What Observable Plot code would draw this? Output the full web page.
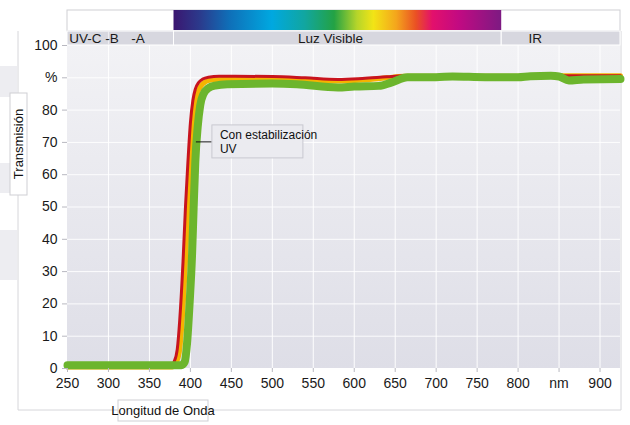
<!DOCTYPE html>
<html><head><meta charset="utf-8">
<script src="https://cdn.jsdelivr.net/npm/d3@7"></script>
<script src="https://cdn.jsdelivr.net/npm/@observablehq/plot@0.6"></script>
<style>
body{margin:0;background:#fff;}
#chart{position:relative;width:630px;height:425px;overflow:hidden;}
</style></head><body><div id="chart"></div>
<script>
// ---- data ----
const xTicks = [250,300,350,400,450,500,550,600,650,700,750,800,850,900];
const xTickLabels = ["250","300","350","400","450","500","550","600","650","700","750","800","nm","900"];
const yTicks = [0,10,20,30,40,50,60,70,80,90,100];
const yTickLabels = ["0","10","20","30","40","50","60","70","80","%","100"];

const redNm  = [250,375,380,384,387,391,394,397,400,403,406,410,415,422,435,500,540,580,610,640,660,700,760,800,815,840,860,900,925];
const redPct = [0.5,0.5,2,6,15,33,50,64,76,83,86.5,88.5,89.6,90.2,90.5,90.4,90,89.5,89.8,90.3,90.6,90.6,90.6,90.6,90.8,90.9,90.6,90.6,90.6];

const orangeNm  = [250,378,383,387,390,394,397,400,403,406,409,413,418,425,440,500,540,580,610,640,660,700,760,800,815,840,860,900,925];
const orangePct = [0.5,0.5,2,6,15,33,50,64,75,82,85.5,87.5,88.7,89.3,89.5,89.5,89.3,89.0,89.3,90.0,90.5,90.5,90.5,90.5,90.7,90.9,90.6,90.6,90.6];

const greenNm  = [250,389,393,396,399,402,404,406,409,412,416,422,430,445,500,530,580,600,630,645,665,700,720,760,800,815,840,850,862,880,925];
const greenPct = [1,1,2,8,20,35,50,64,75,81.5,85,86.8,87.6,88,88.2,88,87,87.3,87.5,88.5,90.2,90.2,90.4,90.2,90.2,90.5,90.6,90.4,89.2,89.5,89.6];

const regionNames = ["UV","Luz Visible","IR"];
const regionFrom  = [250,380,780];
const regionTo    = [380,780,925];
const headerLeftLabels = ["UV-C -B"];
const headerLeftNm     = [252];
const headerLabels = ["-A","Luz Visible","IR"];
const headerNm     = [336,571,821];
const spectrumFrom = 380, spectrumTo = 780;

const seriesNames  = ["Sin estabilización","Intermedio","Con estabilización UV"];
const seriesColors = ["#c8141e","#f4b400","#6cb52d"];

// ---- tables ----
const mk = (nm, pct, s) => nm.map((v,i)=>({nm:v, pct:pct[i], s}));
const lines = [mk(redNm,redPct,0), mk(orangeNm,orangePct,1), mk(greenNm,greenPct,2)];
const regions = regionNames.map((n,i)=>({name:n, from:regionFrom[i], to:regionTo[i]}));
const headerL = headerLeftLabels.map((t,i)=>({t, nm:headerLeftNm[i]}));
const header = headerLabels.map((t,i)=>({t, nm:headerNm[i]}));

// ---- layout ----
const W=630,H=425,mL=67,mR=10,mT=10,mB=57;
const plotH = H - mB - mT;
const yMax = 100 * plotH / (H - mB - 45);
const u = yMax / plotH; // units per pixel
const yHead = 100 + 14*u, ySpecB = 100 + 15*u;

const font = "'Liberation Sans', Arial, Helvetica, sans-serif";

const plot = Plot.plot({
  width:W, height:H, marginLeft:mL, marginRight:mR, marginTop:mT, marginBottom:mB,
  style:{fontFamily:font, fontSize:"14px", color:"#1a1a1a", background:"transparent"},
  x:{domain:[250,925]},
  y:{domain:[0,yMax]},
  marks:[
    Plot.rect([0],{x1:250,x2:925,y1:0,y2:100,fill:"url(#bgGrad)"}),
    Plot.ruleX(xTicks.filter(d=>d>250),{y1:0,y2:100,stroke:"#ffffff",strokeOpacity:0.95}),
    Plot.ruleY(yTicks.filter(d=>d>0 && d<100),{stroke:"#ffffff",strokeOpacity:0.9}),
    Plot.rect([0],{x1:250,x2:925,y1:yHead,y2:yMax,fill:"#fff",stroke:"#cfcfd4"}),
    Plot.rect(regions,{x1:"from",x2:"to",y1:100,y2:yHead,fill:"#d7d7df",stroke:"#fff",strokeWidth:1}),
    Plot.ruleX([300],{y1:100,y2:yHead,stroke:"#eeeef2"}),
    Plot.rect([0],{x1:spectrumFrom,x2:spectrumTo,y1:ySpecB,y2:yMax,fill:"url(#specGrad)"}),
    Plot.text(headerL,{x:"nm",y:100+7*u,text:"t",textAnchor:"start",fill:"#1a1a1a",fontSize:13.5}),
    Plot.text(header,{x:"nm",y:100+7*u,text:"t",textAnchor:"middle",fill:"#1a1a1a",fontSize:13.5}),
    Plot.line(lines[1],{x:"nm",y:"pct",stroke:seriesColors[1],strokeWidth:5,curve:"monotone-x",strokeLinejoin:"round"}),
    Plot.line(lines[0],{x:"nm",y:"pct",stroke:seriesColors[0],strokeWidth:3,curve:"monotone-x",strokeLinejoin:"round"}),
    Plot.line(lines[2],{x:"nm",y:"pct",stroke:seriesColors[2],strokeWidth:8,curve:"monotone-x",strokeLinejoin:"round"}),
    Plot.axisX(xTicks,{tickFormat:d=>xTickLabels[xTicks.indexOf(d)],tickSize:4,tickPadding:6,stroke:"#b8b8c0",fill:"#1a1a1a",label:null,fontSize:14}),
    Plot.axisY(yTicks,{tickFormat:d=>yTickLabels[yTicks.indexOf(d)],tickSize:5,tickPadding:5,stroke:"#b8b8c0",fill:"#1a1a1a",label:null,fontSize:14})
  ]
});

const svg = d3.select(plot);
const xs = plot.scale("x"), ys = plot.scale("y");
const defs = svg.insert("defs",":first-child");
const bg = defs.append("linearGradient").attr("id","bgGrad").attr("x1",0).attr("x2",0).attr("y1",0).attr("y2",1);
bg.append("stop").attr("offset","0%").attr("stop-color","#f2f2f5");
bg.append("stop").attr("offset","100%").attr("stop-color","#dedee7");
const sp = defs.append("linearGradient").attr("id","specGrad").attr("x1",0).attr("x2",1).attr("y1",0).attr("y2",0);
[["0","#3b1670"],["0.08","#2b3a8c"],["0.17","#0f6fb8"],["0.3","#00a8e0"],["0.4","#11a6a0"],["0.49","#23a244"],["0.56","#b6d52a"],["0.61","#f2e416"],["0.68","#f4a51c"],["0.74","#ea5024"],["0.79","#e3106c"],["0.87","#c20a82"],["1","#7d1a82"]]
 .forEach(([o,c])=>sp.append("stop").attr("offset",o).attr("stop-color",c));

// decorations behind
const back = svg.insert("g",":first-child");
[[66,97],[163,193],[230,280]].forEach(([a,b])=>back.append("rect").attr("x",0).attr("y",a).attr("width",17).attr("height",b-a).attr("fill","#ededf1"));
back.append("path").attr("d",`M18,31V410H621V31`).attr("fill","none").attr("stroke","#d6d6da");

// annotation
const ax = xs.apply(411), ay = ys.apply(70);
const g = svg.append("g").attr("font-family",font).attr("font-size",12).attr("text-anchor","start");
g.append("line").attr("x1",ax-3).attr("x2",ax+13).attr("y1",ay).attr("y2",ay).attr("stroke","#111").attr("stroke-width",1);
g.append("rect").attr("x",ax+13).attr("y",ay-17).attr("width",91).attr("height",33).attr("fill","#ebebf0").attr("stroke","#c9c9d0");
g.append("text").attr("x",ax+21).attr("y",ay-3).attr("fill","#111").text("Con estabilización");
g.append("text").attr("x",ax+21).attr("y",ay+11).attr("fill","#111").text("UV");

// axis titles
const t = svg.append("g").attr("font-family",font).attr("font-size",13).attr("fill","#111");
t.append("rect").attr("x",10).attr("y",93).attr("width",17).attr("height",102).attr("fill","#fff").attr("stroke","#cfcfd4");
t.append("text").attr("transform","translate(23,144) rotate(-90)").attr("text-anchor","middle").text("Transmisión");
t.append("rect").attr("x",118).attr("y",400).attr("width",90).attr("height",21).attr("fill","#fff").attr("stroke","#cfcfd4");
t.append("text").attr("x",163).attr("y",415).attr("text-anchor","middle").text("Longitud de Onda");

document.getElementById("chart").appendChild(plot);
</script></body></html>
